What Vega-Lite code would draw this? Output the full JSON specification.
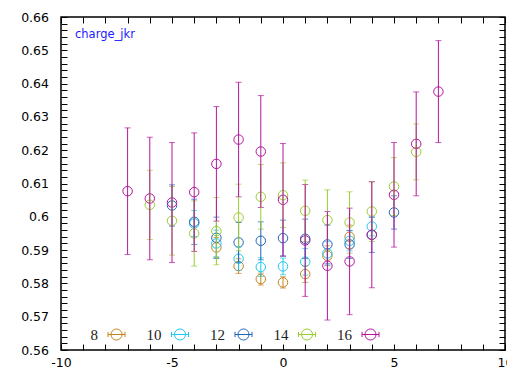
{
  "$schema": "https://vega.github.io/schema/vega-lite/v6.json",
  "width": 444,
  "height": 333,
  "autosize": {"type": "none"},
  "padding": {"left": 61, "top": 17, "right": 2, "bottom": 25},
  "background": "white",
  "config": {
    "view": {"stroke": "#000000", "strokeWidth": 1.5},
    "axis": {"grid": false, "domain": false, "title": null, "ticks": true, "tickColor": "#000000", "tickWidth": 1, "labelOverlap": false, "labelFlush": false, "labelBound": false, "labelFont": "DejaVu Sans", "labelFontSize": 12.5, "labelColor": "black"}
  },
  "title": {"text": "charge_jkr", "anchor": "start", "frame": "group", "orient": "top", "offset": -38.5, "dx": 14, "color": "#1a1aff", "font": "DejaVu Sans", "fontSize": 11.5, "fontWeight": "normal", "baseline": "alphabetic"},
  "data": {"values": [
    {"L": "8", "x": -3, "y": 0.5908, "err": 0.003},
    {"L": "8", "x": -2, "y": 0.5852, "err": 0.0022},
    {"L": "8", "x": -1, "y": 0.5813, "err": 0.0018},
    {"L": "8", "x": 0, "y": 0.5803, "err": 0.0017},
    {"L": "8", "x": 1, "y": 0.5828, "err": 0.0025},
    {"L": "8", "x": 2, "y": 0.5883, "err": 0.003},
    {"L": "8", "x": 3, "y": 0.594, "err": 0.0035},
    {"L": "10", "x": -4, "y": 0.598, "err": 0.0039},
    {"L": "10", "x": -3, "y": 0.592, "err": 0.004},
    {"L": "10", "x": -2, "y": 0.5874, "err": 0.0035},
    {"L": "10", "x": -1, "y": 0.5849, "err": 0.0028},
    {"L": "10", "x": 0, "y": 0.5851, "err": 0.0025},
    {"L": "10", "x": 1, "y": 0.5865, "err": 0.004},
    {"L": "10", "x": 2, "y": 0.589, "err": 0.0035},
    {"L": "10", "x": 3, "y": 0.5928, "err": 0.003},
    {"L": "10", "x": 4, "y": 0.5971, "err": 0.0028},
    {"L": "12", "x": -5, "y": 0.6034, "err": 0.0062},
    {"L": "12", "x": -4, "y": 0.5985, "err": 0.0068},
    {"L": "12", "x": -3, "y": 0.5937, "err": 0.0062},
    {"L": "12", "x": -2, "y": 0.5923, "err": 0.006},
    {"L": "12", "x": -1, "y": 0.5928, "err": 0.0057},
    {"L": "12", "x": 0, "y": 0.5936, "err": 0.0054},
    {"L": "12", "x": 1, "y": 0.5934, "err": 0.0059},
    {"L": "12", "x": 2, "y": 0.5917, "err": 0.0058},
    {"L": "12", "x": 3, "y": 0.5917, "err": 0.0042},
    {"L": "12", "x": 4, "y": 0.5946, "err": 0.0053},
    {"L": "12", "x": 5, "y": 0.6013, "err": 0.005},
    {"L": "14", "x": -6, "y": 0.6036, "err": 0.0104},
    {"L": "14", "x": -5, "y": 0.5988, "err": 0.0103},
    {"L": "14", "x": -4, "y": 0.595, "err": 0.0098},
    {"L": "14", "x": -3, "y": 0.5957, "err": 0.0101},
    {"L": "14", "x": -2, "y": 0.5998, "err": 0.01},
    {"L": "14", "x": -1, "y": 0.606, "err": 0.0097},
    {"L": "14", "x": 0, "y": 0.6065, "err": 0.0097},
    {"L": "14", "x": 1, "y": 0.6018, "err": 0.0092},
    {"L": "14", "x": 2, "y": 0.599, "err": 0.0091},
    {"L": "14", "x": 3, "y": 0.5983, "err": 0.0092},
    {"L": "14", "x": 4, "y": 0.6016, "err": 0.009},
    {"L": "14", "x": 5, "y": 0.6091, "err": 0.0087},
    {"L": "14", "x": 6, "y": 0.6195, "err": 0.0084},
    {"L": "16", "x": -7, "y": 0.6077, "err": 0.019},
    {"L": "16", "x": -6, "y": 0.6055, "err": 0.0184},
    {"L": "16", "x": -5, "y": 0.6043, "err": 0.018},
    {"L": "16", "x": -4, "y": 0.6074, "err": 0.0178},
    {"L": "16", "x": -3, "y": 0.6159, "err": 0.0172},
    {"L": "16", "x": -2, "y": 0.6232, "err": 0.0172},
    {"L": "16", "x": -1, "y": 0.6196, "err": 0.0168},
    {"L": "16", "x": 0, "y": 0.6051, "err": 0.0169},
    {"L": "16", "x": 1, "y": 0.5929, "err": 0.0168},
    {"L": "16", "x": 2, "y": 0.5853, "err": 0.0163},
    {"L": "16", "x": 3, "y": 0.5866, "err": 0.016},
    {"L": "16", "x": 4, "y": 0.5946, "err": 0.0159},
    {"L": "16", "x": 5, "y": 0.6066, "err": 0.0157},
    {"L": "16", "x": 6, "y": 0.6219, "err": 0.0156},
    {"L": "16", "x": 7, "y": 0.6376, "err": 0.0153}
  ]},
  "resolve": {"legend": {"color": "independent"}},
  "layer": [
    {
      "mark": {"type": "point", "shape": "circle", "filled": false, "size": 90, "strokeWidth": 1, "opacity": 1},
      "encoding": {
        "x": {"field": "x", "type": "quantitative", "scale": {"domain": [-10, 10], "nice": false, "zero": false},
          "axis": {"orient": "top", "title": null, "labels": false, "tickSize": -6,
            "values": [-10,-9,-8,-7,-6,-5,-4,-3,-2,-1,0,1,2,3,4,5,6,7,8,9,10],
            "encode": {"ticks": {"update": {"y2": {"signal": "datum.value % 5 == 0 ? 6 : 3"}}}}}},
        "y": {"field": "y", "type": "quantitative", "scale": {"domain": [0.56, 0.66], "nice": false, "zero": false},
          "axis": {"orient": "right", "title": null, "labels": false, "tickSize": -6,
            "values": [0.56,0.562,0.564,0.566,0.568,0.57,0.572,0.574,0.576,0.578,0.58,0.582,0.584,0.586,0.588,0.59,0.592,0.594,0.596,0.598,0.6,0.602,0.604,0.606,0.608,0.61,0.612,0.614,0.616,0.618,0.62,0.622,0.624,0.626,0.628,0.63,0.632,0.634,0.636,0.638,0.64,0.642,0.644,0.646,0.648,0.65,0.652,0.654,0.656,0.658,0.66],
            "encode": {"ticks": {"update": {"x2": {"signal": "abs(datum.value*100 - round(datum.value*100)) < 0.01 ? -6 : -3"}}}}}},
        "color": {"field": "L", "type": "nominal", "scale": {"domain": ["8", "10", "12", "14", "16"], "range": ["#c4841c", "#1ec8f0", "#2266b8", "#9acd32", "#b4159c"]},
          "legend": {"orient": "none", "legendX": 46.5, "legendY": 308.5, "direction": "horizontal", "title": null, "padding": 0,
            "symbolType": "M-1,0H-0.65M0.65,0H1M-1,-0.3V0.3M1,-0.3V0.3M-0.65,0H0.65M0.65,0C0.65,0.359,0.359,0.65,0,0.65C-0.359,0.65,-0.65,0.359,-0.65,0C-0.65,-0.359,-0.359,-0.65,0,-0.65C0.359,-0.65,0.65,-0.359,0.65,0Z",
            "symbolSize": 289, "symbolStrokeWidth": 1, "symbolFillColor": "transparent", "labelFont": "Liberation Serif", "labelFontSize": 15, "labelColor": "#222222",
            "labelAlign": "right", "labelOffset": -27.5, "columnPadding": 18.5}}
      }
    },
    {
      "mark": {"type": "errorbar", "ticks": {"size": 6, "thickness": 1}, "thickness": 1},
      "encoding": {
        "x": {"field": "x", "type": "quantitative",
          "axis": {"orient": "bottom", "title": null, "tickSize": -6, "labelPadding": 12.5,
            "values": [-10,-9,-8,-7,-6,-5,-4,-3,-2,-1,0,1,2,3,4,5,6,7,8,9,10],
            "labelExpr": "datum.value % 5 == 0 ? '' + datum.value : ''",
            "encode": {"ticks": {"update": {"y2": {"signal": "datum.value % 5 == 0 ? -6 : -3"}}}}}},
        "y": {"field": "y", "type": "quantitative",
          "axis": {"orient": "left", "title": null, "tickSize": -6, "labelPadding": 18.5,
            "values": [0.56,0.562,0.564,0.566,0.568,0.57,0.572,0.574,0.576,0.578,0.58,0.582,0.584,0.586,0.588,0.59,0.592,0.594,0.596,0.598,0.6,0.602,0.604,0.606,0.608,0.61,0.612,0.614,0.616,0.618,0.62,0.622,0.624,0.626,0.628,0.63,0.632,0.634,0.636,0.638,0.64,0.642,0.644,0.646,0.648,0.65,0.652,0.654,0.656,0.658,0.66],
            "labelExpr": "abs(datum.value*100 - round(datum.value*100)) < 0.01 ? format(datum.value, '.2~f') : ''",
            "encode": {"ticks": {"update": {"x2": {"signal": "abs(datum.value*100 - round(datum.value*100)) < 0.01 ? 6 : 3"}}}}}},
        "yError": {"field": "err"},
        "color": {"field": "L", "type": "nominal", "legend": null}
      }
    }
  ]
}
